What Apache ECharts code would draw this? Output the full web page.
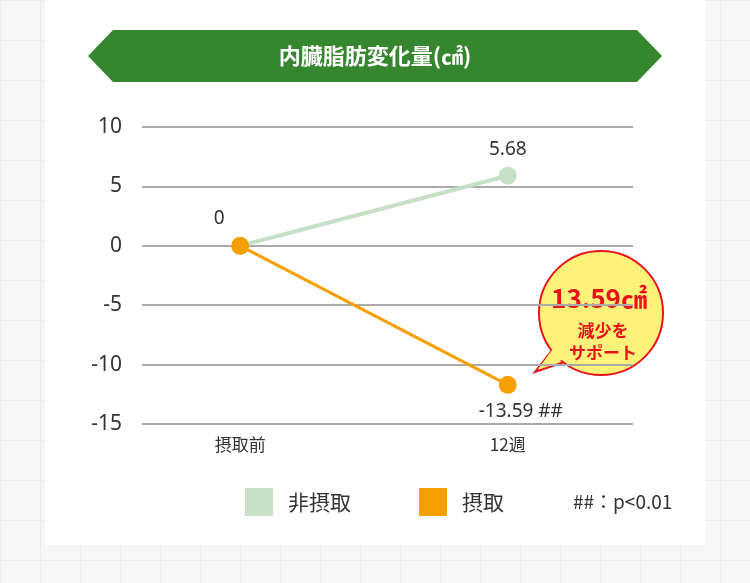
<!DOCTYPE html>
<html>
<head>
<meta charset="utf-8">
<script src="https://cdn.jsdelivr.net/npm/echarts@6/dist/echarts.min.js"></script>
<style>
body{margin:0;width:750px;height:583px;background-color:#f6f6f6;
 background-image:linear-gradient(#ececec 1px,transparent 1px),linear-gradient(90deg,#ececec 1px,transparent 1px);
 background-size:40px 40px;position:relative;overflow:hidden}
#panel{position:absolute;left:45px;top:0;width:660px;height:545px;background:#fff}
#main{position:absolute;left:0;top:0;width:750px;height:583px}
</style>
</head>
<body>
<div id="panel"></div>
<div id="main"></div>
<script>
var title = '内臓脂肪変化量(㎠)';
var categories = ['摂取前', '12週'];
// plotted positions as drawn in the picture
var nonIntake = [0, 5.9];
var intake = [0, -11.7];
// value labels as printed
var nonIntakeLabels = ['', '5.68'];
var intakeLabels = ['0', '-13.59 ##'];

var myChart = echarts.init(document.getElementById('main'));
var option = {
	textStyle: { fontFamily: 'Noto Sans CJK JP' },
	grid: { left: 142, right: 117, top: 127, bottom: 159 },
	xAxis: {
		type: 'value', min: -0.367, max: 1.468,
		splitLine: { show: false }, axisLine: { show: false }, axisTick: { show: false },
		axisLabel: { customValues: [0, 1], formatter: function (v) { return categories[Math.round(v)]; },
			color: '#333', fontSize: 17, margin: 12 }
	},
	yAxis: {
		type: 'value', min: -15, max: 10, interval: 5,
		axisLine: { show: false }, axisTick: { show: false },
		axisLabel: { color: '#333', fontSize: 21, margin: 20, fontFamily: 'Noto Sans' },
		splitLine: { lineStyle: { color: '#aaaaaa', width: 2 } }
	},
	legend: {
		bottom: 62, left: 240, itemGap: 68, itemWidth: 28, itemHeight: 28,
		icon: 'rect', textStyle: { fontSize: 21, color: '#333', padding: [0, 0, 0, 10] },
		data: ['非摂取', '摂取']
	},
	series: [
		{ name: '非摂取', type: 'line', data: [[0, nonIntake[0]], [1, nonIntake[1]]],
		  symbol: 'circle', symbolSize: 18, color: '#c6e0c6', lineStyle: { width: 4 },
		  label: { show: true, position: 'top', distance: 8, fontSize: 19, color: '#333', fontFamily: 'Noto Sans',
			formatter: function (p) { return nonIntakeLabels[p.dataIndex]; } } },
		{ name: '摂取', type: 'line', data: [[0, intake[0]], [1, intake[1]]],
		  symbol: 'circle', symbolSize: 18, color: '#f5a000', lineStyle: { width: 3 },
		  label: { show: true, fontSize: 19, color: '#333', fontFamily: 'Noto Sans',
			formatter: function (p) { return intakeLabels[p.dataIndex]; } },
		  labelLayout: function (p) {
			return p.dataIndex === 0 ? { x: p.rect.x - 12, y: p.rect.y - 28, align: 'center' }
				: { x: p.rect.x + 22, y: p.rect.y + 26, align: 'center' };
		  } }
	],
	graphic: [
		{ type: 'polygon', shape: { points: [[88, 56], [113, 30], [637, 30], [662, 56], [637, 82], [113, 82]] },
		  style: { fill: '#35862f' } },
		{ type: 'text', x: 375, y: 56, style: { text: title, fill: '#fff', fontSize: 22, fontWeight: 'bold',
			align: 'center', verticalAlign: 'middle', fontFamily: 'Noto Sans CJK JP' } },
		{ type: 'polygon', shape: { points: [[560, 340], [535, 372], [585, 355]] },
		  style: { fill: '#fff27a', stroke: '#e8141b', lineWidth: 2 } },
		{ type: 'circle', shape: { cx: 601, cy: 313, r: 62 }, style: { fill: '#fff27a', stroke: '#e8141b', lineWidth: 2 } },
		{ type: 'polygon', shape: { points: [[561, 338], [538, 369], [584, 352]] }, style: { fill: '#fff27a' } },
		{ type: 'text', x: 599, y: 298, style: { text: '13.59㎠', fill: '#e8141b', fontSize: 26, fontWeight: 'bold',
			align: 'center', verticalAlign: 'middle', fontFamily: 'Noto Sans CJK JP' } },
		{ type: 'text', x: 603, y: 342, style: { text: '減少を\nサポート', fill: '#e8141b', fontSize: 17, fontWeight: 'bold',
			lineHeight: 22, align: 'center', verticalAlign: 'middle', fontFamily: 'Noto Sans CJK JP' } },
		{ type: 'text', x: 573, y: 502, style: { text: '##：p<0.01', fill: '#333', fontSize: 19,
			verticalAlign: 'middle', fontFamily: 'Noto Sans CJK JP' } }
	]
};
myChart.setOption(option);
</script>
</body>
</html>
